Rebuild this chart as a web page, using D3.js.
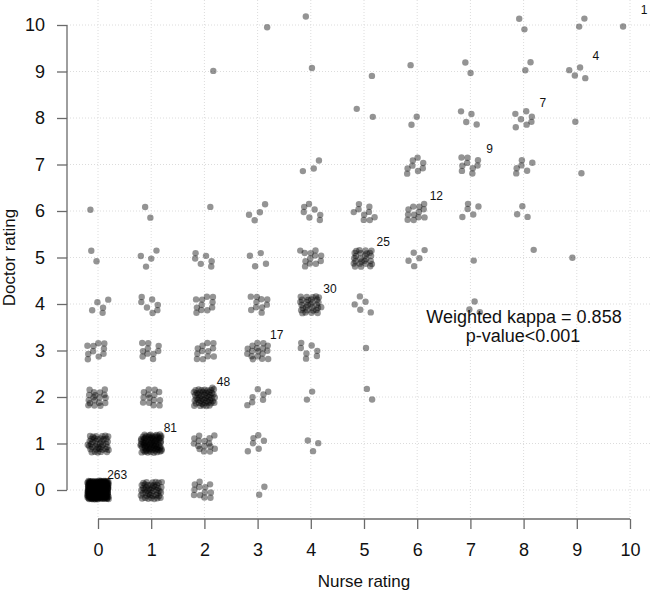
<!DOCTYPE html>
<html><head><meta charset="utf-8">
<script src="https://cdn.jsdelivr.net/npm/d3@7"></script>
<style>html,body{margin:0;padding:0;background:#fff;}svg{display:block;font-family:"Liberation Sans",Arial,sans-serif;}</style>
</head><body>
<svg id="c" width="650" height="593"></svg>
<script>
// Cell data: nurse rating, doctor rating, number of patients in the cell
const nurse  = [0,0,0,0,0,0,0, 1,1,1,1,1,1,1, 2,2,2,2,2,2,2,2, 3,3,3,3,3,3,3,3, 4,4,4,4,4,4,4,4,4, 5,5,5,5,5,5,5, 6,6,6,6,6, 7,7,7,7,7,7, 8,8,8,8,8,8, 9,9,9,9,9, 10];
const doctor = [0,1,2,3,4,5,6, 0,1,2,3,4,5,6, 0,1,2,3,4,5,6,9, 0,1,2,3,4,5,6,10, 1,2,3,4,5,6,7,9,10, 2,3,4,5,6,8,9, 5,6,7,8,9, 4,5,6,7,8,9, 5,6,7,8,9,10, 5,7,8,9,10, 10];
const count  = [263,40,18,10,5,2,1, 45,81,14,10,7,4,2, 12,15,48,12,11,6,1,1, 2,6,7,17,10,4,4,1, 3,2,7,30,12,7,3,1,1, 2,1,5,25,9,2,1, 5,12,8,2,1, 3,1,5,9,4,2, 1,3,6,7,2,2, 1,1,1,4,2, 1];
const ticks = [0,1,2,3,4,5,6,7,8,9,10];
const xTitle = "Nurse rating", yTitle = "Doctor rating";
const note1 = "Weighted kappa = 0.858", note2 = "p-value<0.001";

const svg = d3.select("#c");
const x = d3.scaleLinear().domain([0,10]).range([98,630]);
const y = d3.scaleLinear().domain([0,10]).range([490,25]);
const plotL = 67, plotR = 650, plotT = 0, plotB = 519;

// grid
const g = svg.append("g");
g.selectAll(".vg").data(ticks).join("line")
  .attr("x1", d=>x(d)).attr("x2", d=>x(d)).attr("y1", plotT).attr("y2", plotB)
  .attr("stroke", "#dcdcdc").attr("stroke-width", 1).attr("stroke-dasharray", "1,2");
g.selectAll(".hg").data(ticks).join("line")
  .attr("x1", plotL).attr("x2", plotR).attr("y1", d=>y(d)).attr("y2", d=>y(d))
  .attr("stroke", "#dcdcdc").attr("stroke-width", 1).attr("stroke-dasharray", "1,2");

// build jittered points deterministically (R2 low-discrepancy sequence within +/-0.2)
const a1 = 0.7548776662466927, a2 = 0.5698402909980532;
const frac = v => v - Math.floor(v);
const pts = [];
nurse.forEach((n,i)=>{
  const d = doctor[i], c = count[i];
  const s1 = frac(n*0.318 + d*0.713 + 0.11), s2 = frac(n*0.577 + d*0.271 + 0.37);
  for (let k=0;k<c;k++){
    const u = frac(s1 + (k+1)*a1), v = frac(s2 + (k+1)*a2);
    pts.push({n, d, jx: (u-0.5)*0.4, jy: (v-0.5)*0.4});
  }
});
svg.append("g").selectAll("circle").data(pts).join("circle")
  .attr("cx", p=>x(p.n + p.jx)).attr("cy", p=>y(p.d + p.jy)).attr("r", 3.2)
  .attr("fill", "#000").attr("fill-opacity", 0.42);

// diagonal counts
const diag = nurse.map((n,i)=>({n, d:doctor[i], c:count[i]})).filter(o=>o.n===o.d);
svg.append("g").selectAll("text").data(diag).join("text")
  .attr("x", o=>Math.min(x(o.n+0.36), 644)).attr("y", o=>y(o.d+0.33)).attr("dy","0.35em")
  .attr("text-anchor","middle").attr("font-size", 12).attr("fill","#111")
  .text(o=>o.c);

// axes
const axCol = "#6a6a6a";
const xa = svg.append("g").attr("transform", `translate(0,${plotB})`)
  .call(d3.axisBottom(x).tickValues(ticks).tickSize(10).tickPadding(14).tickFormat(d3.format("d")));
const ya = svg.append("g").attr("transform", `translate(${plotL},0)`)
  .call(d3.axisLeft(y).tickValues(ticks).tickSize(10).tickPadding(12).tickFormat(d3.format("d")));
[xa,ya].forEach(a=>{
  a.select(".domain").remove();
  a.selectAll(".tick line").attr("stroke", axCol).attr("stroke-width", 1.3);
  a.selectAll(".tick text").attr("font-size", 18).attr("fill","#111").attr("font-family","Liberation Sans, Arial, sans-serif");
});
xa.append("line").attr("x1", x(0)).attr("x2", x(10)).attr("y1",0).attr("y2",0).attr("stroke",axCol).attr("stroke-width",1.3);
ya.append("line").attr("y1", y(0)).attr("y2", y(10)).attr("x1",0).attr("x2",0).attr("stroke",axCol).attr("stroke-width",1.3);

// titles
svg.append("text").attr("x", (x(0)+x(10))/2).attr("y", 587).attr("text-anchor","middle")
  .attr("font-size", 17).attr("fill","#111").text(xTitle);
svg.append("text").attr("transform", `translate(15,${(y(0)+y(10))/2}) rotate(-90)`).attr("text-anchor","middle")
  .attr("font-size", 17).attr("fill","#111").text(yTitle);

// annotation
svg.append("text").attr("x", 524).attr("y", 323).attr("text-anchor","middle")
  .attr("font-size", 18).attr("fill","#111").text(note1);
svg.append("text").attr("x", 523).attr("y", 342).attr("text-anchor","middle")
  .attr("font-size", 18).attr("fill","#111").text(note2);
</script>
</body></html>
